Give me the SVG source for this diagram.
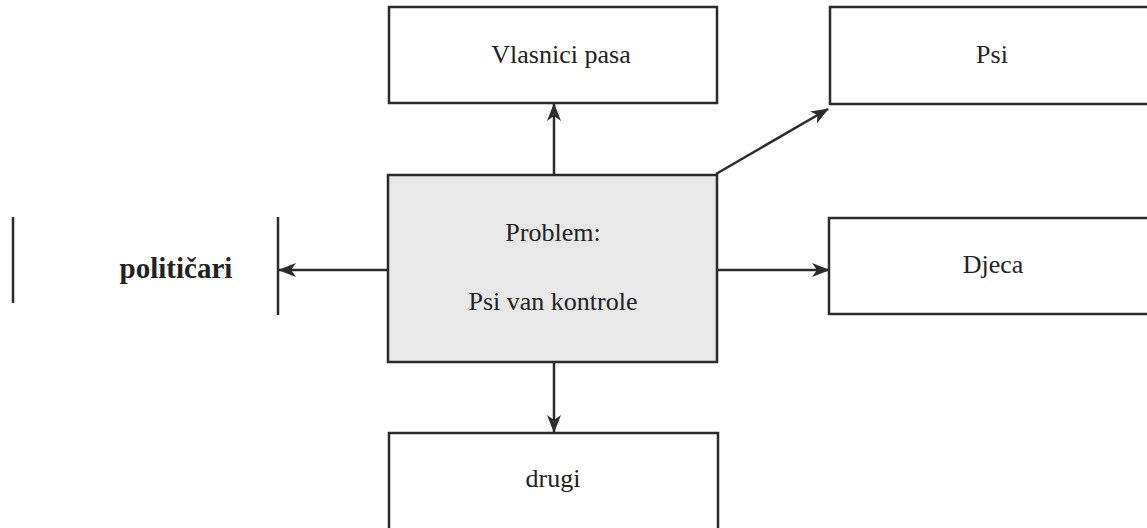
<svg xmlns="http://www.w3.org/2000/svg" width="1147" height="528" viewBox="0 0 1147 528">
<defs>
<style>
.box{fill:#ffffff;stroke:#2b2b2b;stroke-width:2.5}
.center{fill:#e8e8e8;stroke:#2b2b2b;stroke-width:2.5}
.lbl{font-family:"Liberation Serif","Times New Roman",serif;font-size:26px;fill:#222;text-anchor:middle}
.bold{font-weight:bold;font-size:29px}
.conn{stroke:#2b2b2b;stroke-width:2.5;fill:none}
</style>
<marker id="arr" viewBox="0 0 18 14" refX="17" refY="7" markerWidth="18" markerHeight="14" markerUnits="userSpaceOnUse" orient="auto">
<path d="M0,0 L18,7 L0,14 L5,7 Z" fill="#2b2b2b"/>
</marker>
</defs>
<rect width="1147" height="528" fill="#ffffff"/>
<g id="vlasnici">
<rect class="box" x="389" y="7" width="328" height="96"/>
<text class="lbl" x="561" y="63">Vlasnici pasa</text>
</g>
<g id="psi">
<rect class="box" x="830" y="7" width="330" height="97"/>
<text class="lbl" x="992" y="63">Psi</text>
</g>
<g id="problem">
<rect class="center" x="388" y="175" width="329" height="187"/>
<text class="lbl" x="553" y="241">Problem:</text>
<text class="lbl" x="553" y="310">Psi van kontrole</text>
</g>
<g id="djeca">
<rect class="box" x="829" y="218" width="330" height="96"/>
<text class="lbl" x="993" y="273">Djeca</text>
</g>
<g id="drugi">
<rect class="box" x="389" y="433" width="329" height="110"/>
<text class="lbl" x="553" y="487">drugi</text>
</g>
<g id="politicari">
<line class="conn" x1="13" y1="217" x2="13" y2="303"/>
<line class="conn" x1="278" y1="217" x2="278" y2="315"/>
<text class="lbl bold" x="176" y="278">političari</text>
</g>
<g id="connectors">
<line class="conn" x1="554" y1="175" x2="554" y2="104" marker-end="url(#arr)"/>
<line class="conn" x1="716" y1="174" x2="828" y2="109" marker-end="url(#arr)"/>
<line class="conn" x1="717" y1="270" x2="829" y2="270" marker-end="url(#arr)"/>
<line class="conn" x1="388" y1="270" x2="279" y2="270" marker-end="url(#arr)"/>
<line class="conn" x1="554" y1="362" x2="554" y2="432" marker-end="url(#arr)"/>
</g>
</svg>
